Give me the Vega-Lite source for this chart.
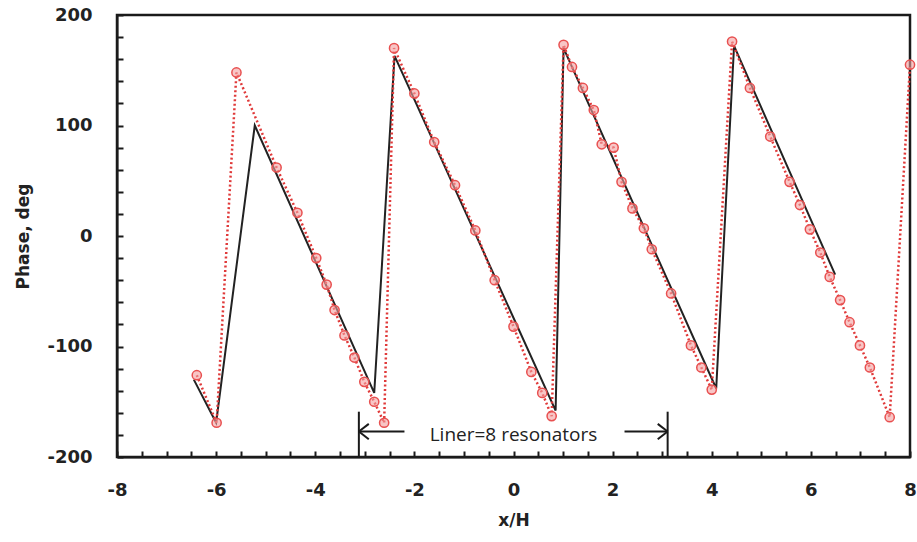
{
  "$schema": "https://vega.github.io/schema/vega-lite/v6.json",
  "width": 793,
  "height": 442,
  "autosize": {"type": "none"},
  "padding": {"left": 117, "top": 15, "right": 7, "bottom": 85},
  "background": "white",
  "config": {
    "view": {"stroke": "#1a1a1a", "strokeWidth": 2.5}
  },
  "datasets": {
    "curves": [
      {"s": "model", "i": 1, "x": -6.45, "y": -130},
      {"s": "model", "i": 2, "x": -6.0, "y": -169},
      {"s": "model", "i": 3, "x": -5.22, "y": 100},
      {"s": "model", "i": 4, "x": -2.81, "y": -142},
      {"s": "model", "i": 5, "x": -2.4, "y": 163},
      {"s": "model", "i": 6, "x": 0.85, "y": -158},
      {"s": "model", "i": 7, "x": 1.01, "y": 170},
      {"s": "model", "i": 8, "x": 4.09, "y": -138},
      {"s": "model", "i": 9, "x": 4.45, "y": 172},
      {"s": "model", "i": 10, "x": 6.49, "y": -35},
      {"s": "exp", "i": 1, "x": -6.39, "y": -126},
      {"s": "exp", "i": 2, "x": -5.99, "y": -169},
      {"s": "exp", "i": 3, "x": -5.59, "y": 148},
      {"s": "exp", "i": 4, "x": -4.78, "y": 62},
      {"s": "exp", "i": 5, "x": -4.36, "y": 21},
      {"s": "exp", "i": 6, "x": -3.98, "y": -20},
      {"s": "exp", "i": 7, "x": -3.77, "y": -44},
      {"s": "exp", "i": 8, "x": -3.61, "y": -67},
      {"s": "exp", "i": 9, "x": -3.41, "y": -90},
      {"s": "exp", "i": 10, "x": -3.21, "y": -110},
      {"s": "exp", "i": 11, "x": -3.01, "y": -132},
      {"s": "exp", "i": 12, "x": -2.81, "y": -150},
      {"s": "exp", "i": 13, "x": -2.61, "y": -169},
      {"s": "exp", "i": 14, "x": -2.41, "y": 170},
      {"s": "exp", "i": 15, "x": -2.0, "y": 129},
      {"s": "exp", "i": 16, "x": -1.6, "y": 85},
      {"s": "exp", "i": 17, "x": -1.18, "y": 46},
      {"s": "exp", "i": 18, "x": -0.77, "y": 5},
      {"s": "exp", "i": 19, "x": -0.38, "y": -40},
      {"s": "exp", "i": 20, "x": 0.0, "y": -82},
      {"s": "exp", "i": 21, "x": 0.36, "y": -123},
      {"s": "exp", "i": 22, "x": 0.58, "y": -142},
      {"s": "exp", "i": 23, "x": 0.77, "y": -163},
      {"s": "exp", "i": 24, "x": 1.01, "y": 173},
      {"s": "exp", "i": 25, "x": 1.18, "y": 153},
      {"s": "exp", "i": 26, "x": 1.4, "y": 134},
      {"s": "exp", "i": 27, "x": 1.62, "y": 114},
      {"s": "exp", "i": 28, "x": 1.78, "y": 83},
      {"s": "exp", "i": 29, "x": 2.02, "y": 80},
      {"s": "exp", "i": 30, "x": 2.18, "y": 49},
      {"s": "exp", "i": 31, "x": 2.4, "y": 25},
      {"s": "exp", "i": 32, "x": 2.63, "y": 7},
      {"s": "exp", "i": 33, "x": 2.79, "y": -12},
      {"s": "exp", "i": 34, "x": 3.18, "y": -52},
      {"s": "exp", "i": 35, "x": 3.58, "y": -99},
      {"s": "exp", "i": 36, "x": 3.79, "y": -119},
      {"s": "exp", "i": 37, "x": 4.0, "y": -139},
      {"s": "exp", "i": 38, "x": 4.41, "y": 176},
      {"s": "exp", "i": 39, "x": 4.77, "y": 134},
      {"s": "exp", "i": 40, "x": 5.18, "y": 90},
      {"s": "exp", "i": 41, "x": 5.57, "y": 49},
      {"s": "exp", "i": 42, "x": 5.78, "y": 28},
      {"s": "exp", "i": 43, "x": 5.98, "y": 6},
      {"s": "exp", "i": 44, "x": 6.19, "y": -15},
      {"s": "exp", "i": 45, "x": 6.38, "y": -37},
      {"s": "exp", "i": 46, "x": 6.59, "y": -58},
      {"s": "exp", "i": 47, "x": 6.78, "y": -78},
      {"s": "exp", "i": 48, "x": 6.99, "y": -99},
      {"s": "exp", "i": 49, "x": 7.19, "y": -119},
      {"s": "exp", "i": 50, "x": 7.59, "y": -164},
      {"s": "exp", "i": 51, "x": 8.0, "y": 155}
    ],
    "segments": [
      {"x": -3.12, "y": -200, "x2": -3.12, "y2": -159},
      {"x": 3.11, "y": -200, "x2": 3.11, "y2": -159},
      {"x": -3.12, "y": -177, "x2": -2.2, "y2": -177},
      {"x": 2.24, "y": -177, "x2": 3.11, "y2": -177},
      {"x": -3.12, "y": -177, "x2": -2.92, "y2": -170},
      {"x": -3.12, "y": -177, "x2": -2.92, "y2": -184},
      {"x": 3.11, "y": -177, "x2": 2.91, "y2": -170},
      {"x": 3.11, "y": -177, "x2": 2.91, "y2": -184}
    ],
    "labels": [
      {"x": 0.0, "y": -180, "t": "Liner=8 resonators"}
    ]
  },
  "encoding": {
    "x": {
      "field": "x", "type": "quantitative",
      "scale": {"domain": [-8, 8], "nice": false},
      "axis": {
        "title": "x/H",
        "values": [-8,-7.5,-7,-6.5,-6,-5.5,-5,-4.5,-4,-3.5,-3,-2.5,-2,-1.5,-1,-0.5,0,0.5,1,1.5,2,2.5,3,3.5,4,4.5,5,5.5,6,6.5,7,7.5,8],
        "labelExpr": "datum.value % 2 == 0 ? '' + datum.value : ''",
        "labelOverlap": false,
        "labelPadding": 30,
        "labelFlush": false,
        "grid": false,
        "domainColor": "#1a1a1a",
        "domainWidth": 2,
        "tickColor": "#1a1a1a",
        "tickWidth": 2,
        "tickSize": -6,
        "labelFont": "DejaVu Sans",
        "labelFontWeight": "bold",
        "labelFontSize": 18,
        "labelColor": "#222",
        "titleFont": "DejaVu Sans",
        "titleFontWeight": "bold",
        "titleFontSize": 17,
        "titleColor": "#222",
        "titleBaseline": "middle",
        "titleY": 63
      }
    },
    "y": {
      "field": "y", "type": "quantitative",
      "scale": {"domain": [-200, 200], "nice": false},
      "axis": {
        "title": "Phase, deg",
        "values": [-200,-180,-160,-140,-120,-100,-80,-60,-40,-20,0,20,40,60,80,100,120,140,160,180,200],
        "labelExpr": "datum.value % 100 == 0 ? '' + datum.value : ''",
        "labelOverlap": false,
        "labelPadding": 31,
        "labelFlush": false,
        "grid": false,
        "domainColor": "#1a1a1a",
        "domainWidth": 2,
        "tickColor": "#1a1a1a",
        "tickWidth": 2,
        "tickSize": -6,
        "labelFont": "DejaVu Sans",
        "labelFontWeight": "bold",
        "labelFontSize": 18,
        "labelColor": "#222",
        "titleFont": "DejaVu Sans",
        "titleFontWeight": "bold",
        "titleFontSize": 17,
        "titleColor": "#222",
        "titleBaseline": "middle",
        "titleX": -94,
        "titleY": 221
      }
    }
  },
  "layer": [
    {
      "data": {"name": "curves"},
      "transform": [{"filter": "datum.s == 'model'"}],
      "mark": {"type": "line", "color": "#222", "strokeWidth": 2},
      "encoding": {
        "order": {"field": "i", "type": "quantitative"}
      }
    },
    {
      "data": {"name": "curves"},
      "transform": [{"filter": "datum.s == 'exp'"}],
      "mark": {"type": "line", "color": "#e03a3a", "strokeWidth": 2.5, "strokeDash": [2, 2.5]},
      "encoding": {
        "order": {"field": "i", "type": "quantitative"}
      }
    },
    {
      "data": {"name": "curves"},
      "transform": [{"filter": "datum.s == 'exp'"}],
      "mark": {"type": "point", "shape": "circle", "size": 85, "filled": false, "stroke": "#e85050", "strokeWidth": 1.5, "fill": "#f4a0a0", "fillOpacity": 0.6},
      "encoding": {}
    },
    {
      "data": {"name": "segments"},
      "mark": {"type": "rule", "color": "#1a1a1a", "strokeWidth": 2},
      "encoding": {
        "x2": {"field": "x2"},
        "y2": {"field": "y2"}
      }
    },
    {
      "data": {"name": "labels"},
      "mark": {"type": "text", "font": "Open Sans", "fontSize": 19, "color": "#222", "align": "center", "baseline": "middle"},
      "encoding": {
        "text": {"field": "t"}
      }
    }
  ]
}
